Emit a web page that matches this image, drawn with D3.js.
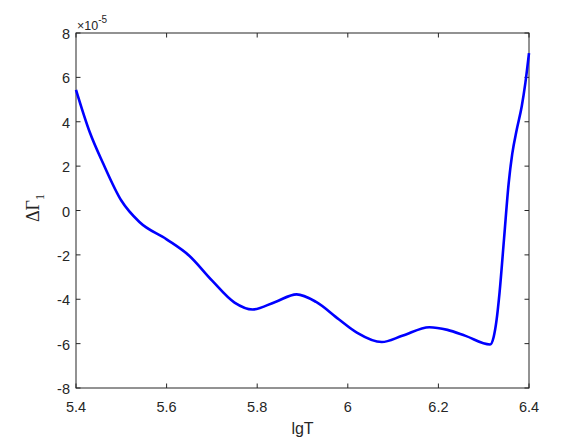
<!DOCTYPE html>
<html lang="en">
<head>
    <meta charset="UTF-8">
    <title>Delta Gamma1 vs lgT</title>
    <script src="https://d3js.org/d3.v7.min.js"></script>
    <style>
        body {
            margin: 0;
            padding: 0;
            background-color: white;
        }
        svg {
            display: block;
            font-family: 'Liberation Sans', Arial, sans-serif;
        }
        .tick-label {
            font-size: 14.5px;
            fill: #262626;
        }
        .axis-title {
            font-size: 16px;
            fill: #262626;
            text-anchor: middle;
        }
    </style>
</head>
<body>
    <svg width="584" height="438"></svg>

    <script>
        // lgT values and Delta Gamma_1 (units of 1e-5)
        const lgT = [5.400, 5.430, 5.460, 5.500, 5.540, 5.600, 5.650, 5.700, 5.750, 5.790,
                     5.840, 5.887, 5.930, 5.980, 6.020, 6.075, 6.120, 6.180, 6.220, 6.260,
                     6.314, 6.322, 6.328, 6.335, 6.345, 6.355, 6.363, 6.373, 6.384, 6.392, 6.400];
        const dGamma = [5.44, 3.55, 2.12, 0.45, -0.52, -1.30, -2.04, -3.15, -4.15, -4.46,
                        -4.12, -3.78, -4.12, -4.90, -5.50, -5.93, -5.65, -5.26, -5.38, -5.65,
                        -6.04, -5.70, -5.00, -3.70, -1.25, 1.20, 2.55, 3.65, 4.70, 5.75, 7.09];
        const xTicks = [5.4, 5.6, 5.8, 6, 6.2, 6.4];
        const yTicks = [-8, -6, -4, -2, 0, 2, 4, 6, 8];

        const svg = d3.select("svg");
        const mLeft = 76, mRight = 529, mTop = 33, mBottom = 388;

        const x = d3.scaleLinear().domain([5.4, 6.4]).range([mLeft, mRight]);
        const y = d3.scaleLinear().domain([-8, 8]).range([mBottom, mTop]);

        const tickLen = 4.5;
        const axisColor = "#262626";

        // box
        svg.append("rect")
            .attr("x", mLeft)
            .attr("y", mTop)
            .attr("width", mRight - mLeft)
            .attr("height", mBottom - mTop)
            .attr("fill", "white")
            .attr("stroke", axisColor)
            .attr("stroke-width", 1);

        // x ticks (bottom and top, inward)
        xTicks.forEach(function(t) {
            svg.append("line")
                .attr("x1", x(t)).attr("x2", x(t))
                .attr("y1", mBottom).attr("y2", mBottom - tickLen)
                .attr("stroke", axisColor);
            svg.append("line")
                .attr("x1", x(t)).attr("x2", x(t))
                .attr("y1", mTop).attr("y2", mTop + tickLen)
                .attr("stroke", axisColor);
            svg.append("text")
                .attr("class", "tick-label")
                .attr("x", x(t))
                .attr("y", mBottom + 23.5)
                .attr("text-anchor", "middle")
                .text(d3.format("")(t));
        });

        // y ticks (left and right, inward)
        yTicks.forEach(function(t) {
            svg.append("line")
                .attr("x1", mLeft).attr("x2", mLeft + tickLen)
                .attr("y1", y(t)).attr("y2", y(t))
                .attr("stroke", axisColor);
            svg.append("line")
                .attr("x1", mRight).attr("x2", mRight - tickLen)
                .attr("y1", y(t)).attr("y2", y(t))
                .attr("stroke", axisColor);
            svg.append("text")
                .attr("class", "tick-label")
                .attr("x", mLeft - 6)
                .attr("y", y(t) + 6)
                .attr("text-anchor", "end")
                .text(t < 0 ? "-" + Math.abs(t) : t);
        });

        // exponent label
        const expo = svg.append("text")
            .attr("x", mLeft + 1)
            .attr("y", 29.5)
            .attr("fill", axisColor)
            .style("font-size", "12.5px");
        expo.append("tspan").text("\u00d710");
        expo.append("tspan").attr("dy", -7).style("font-size", "10px").text("-5");

        // curve
        const line = d3.line()
            .x(function(d, i) { return x(lgT[i]); })
            .y(function(d) { return y(d); })
            .curve(d3.curveMonotoneX);

        svg.append("path")
            .datum(dGamma)
            .attr("d", line)
            .attr("fill", "none")
            .attr("stroke", "#0000ff")
            .attr("stroke-width", 2.6)
            .attr("stroke-linejoin", "round");

        // axis titles
        svg.append("text")
            .attr("class", "axis-title")
            .attr("x", (mLeft + mRight) / 2)
            .attr("y", mBottom + 46)
            .text("lgT");

        const yl = svg.append("text")
            .attr("class", "axis-title")
            .attr("transform", "translate(39,208) rotate(-90)")
            .attr("font-family", "'Liberation Serif', 'Times New Roman', serif")
            .attr("fill", axisColor)
            .style("font-size", "18px");
        yl.append("tspan").text("\u0394\u0393");
        yl.append("tspan").attr("dy", 5).style("font-size", "12px").text("1");
    </script>
</body>
</html>
